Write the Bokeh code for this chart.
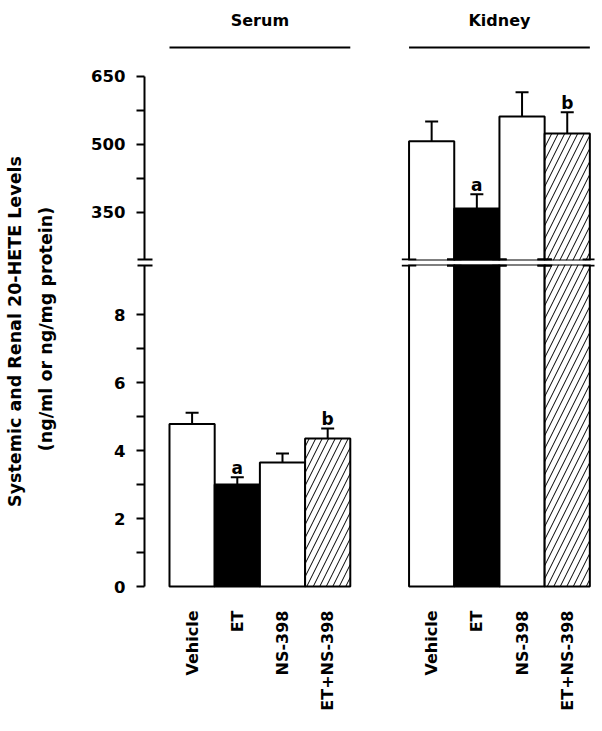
import math
from bokeh.plotting import figure
from bokeh.layouts import row, column
from bokeh.models import Range1d, FixedTicker, Whisker, TeeHead, ColumnDataSource
from bokeh.core.properties import value
from bokeh.embed import file_html
from bokeh.resources import INLINE

# ---------------- data ----------------
groups = ["Serum", "Kidney"]
treatments = ["Vehicle", "ET", "NS-398", "ET+NS-398"]
serum_mean = [4.78, 3.00, 3.65, 4.35]
serum_sem = [0.33, 0.21, 0.26, 0.30]
kidney_mean = [507, 359, 562, 524]
kidney_sem = [44, 31, 53, 47]
serum_marks = ["", "a", "", "b"]
kidney_marks = ["", "a", "", "b"]
bar_fill = ["white", "black", "white", "white"]
bar_hatch = [" ", " ", " ", "/"]
lower_ticks = [0, 2, 4, 6, 8]
lower_minor = [1, 3, 5, 7]
upper_ticks = [350, 500, 650]
upper_minor = [425, 575]
y_label_1 = "Systemic and Renal 20-HETE Levels"
y_label_2 = "(ng/ml or ng/mg protein)"

# ---------------- layout constants ----------------
FONT = "DejaVu Sans"
GROUP_START = [1.0, 6.3]
BAR_W = 1.0
LOWER_BREAK = 9.441
UPPER_BREAK = 246.3
X_RANGE = (-0.053, 9.903)
HATCH_SCALE = 13

serum_x = [GROUP_START[0] + i for i in range(len(treatments))]
kidney_x = [round(GROUP_START[1] + i, 2) for i in range(len(treatments))]


def style_common(p):
    p.xgrid.visible = False
    p.ygrid.visible = False
    p.outline_line_color = None
    p.background_fill_color = "white"
    p.border_fill_color = "white"


def style_yaxis(ax, ticks, minors, brk, bounds):
    allt = sorted(ticks + minors)
    ax.ticker = FixedTicker(ticks=allt, minor_ticks=[brk])
    ax.major_label_overrides = {m: "" for m in minors}
    ax.bounds = bounds
    ax.axis_line_width = 2
    ax.axis_line_color = "black"
    ax.major_tick_line_width = 2
    ax.major_tick_out = 8
    ax.major_tick_in = 0
    ax.minor_tick_line_width = 2
    ax.minor_tick_out = 7
    ax.minor_tick_in = 8
    ax.major_label_standoff = 11
    ax.major_label_text_font = FONT
    ax.major_label_text_font_style = "bold"
    ax.major_label_text_font_size = "16.5px"
    ax.major_label_text_color = "black"


# ---------------- upper (kidney, broken axis top) ----------------
upper = figure(width=530, height=262, x_range=Range1d(*X_RANGE),
               y_range=Range1d(244.1, 800), output_backend="svg",
               toolbar_location=None, x_axis_location=None,
               min_border_left=76, min_border_right=4, min_border_top=8,
               min_border_bottom=2)
style_common(upper)
style_yaxis(upper.yaxis[0], upper_ticks, upper_minor, UPPER_BREAK, (UPPER_BREAK, 650))

ksrc = ColumnDataSource(dict(
    x=kidney_x, top=kidney_mean, upper=[m + s for m, s in zip(kidney_mean, kidney_sem)],
    fill=bar_fill, hatch=bar_hatch, mark=kidney_marks))
upper.vbar(x="x", width=BAR_W, top="top", bottom=upper.y_range.start - 50, source=ksrc,
           fill_color="fill", line_color="black", line_width=2,
           hatch_pattern="hatch", hatch_color="black", hatch_weight=1,
           hatch_scale=HATCH_SCALE)
upper.add_layout(Whisker(source=ksrc, base="x", lower="top", upper="upper",
                         line_width=2, line_color="black", lower_head=None,
                         upper_head=TeeHead(size=13, line_width=2, line_color="black")))
upper.text(x="x", y="upper", text="mark", source=ksrc, text_align="center",
           text_baseline="alphabetic", y_offset=-9, text_font=value(FONT),
           text_font_style="bold", text_font_size="17px", text_color="black")

# group headers
grp_left = [GROUP_START[0] - BAR_W / 2, GROUP_START[1] - BAR_W / 2]
grp_right = [GROUP_START[0] + len(treatments) - 1 + BAR_W / 2,
             GROUP_START[1] + len(treatments) - 1 + BAR_W / 2]
upper.segment(x0=grp_left, x1=grp_right, y0=[714, 714], y1=[714, 714],
              line_color="black", line_width=2)
upper.text(x=[(a + b) / 2 for a, b in zip(grp_left, grp_right)], y=[774.6, 774.6],
           text=groups, text_align="center", text_baseline="alphabetic",
           text_font=value(FONT), text_font_style="bold", text_font_size="16px",
           text_color="black")


def break_marks(p, yv):
    x0, x1 = [], []
    ext = 0.16
    for i, cx in enumerate(kidney_x):
        if bar_fill[i] == "black":
            x0.append(cx - BAR_W / 2 - ext)
            x1.append(cx + BAR_W / 2 + ext)
        else:
            for e in (cx - BAR_W / 2, cx + BAR_W / 2):
                x0.append(e - ext)
                x1.append(e + ext)
    p.segment(x0=x0, x1=x1, y0=[yv] * len(x0), y1=[yv] * len(x0),
              line_color="black", line_width=2)


break_marks(upper, UPPER_BREAK)

# ---------------- lower ----------------
lower = figure(width=530, height=461, x_range=upper.x_range,
               y_range=Range1d(-0.0588, 9.471), output_backend="svg",
               toolbar_location=None, min_border_left=76, min_border_right=4,
               min_border_top=2, min_border_bottom=135)
style_common(lower)
style_yaxis(lower.yaxis[0], lower_ticks, lower_minor, LOWER_BREAK, (0, LOWER_BREAK))

ssrc = ColumnDataSource(dict(
    x=serum_x, top=serum_mean, upper=[m + s for m, s in zip(serum_mean, serum_sem)],
    fill=bar_fill, hatch=bar_hatch, mark=serum_marks))
lower.vbar(x="x", width=BAR_W, top="top", bottom=0, source=ssrc,
           fill_color="fill", line_color="black", line_width=2,
           hatch_pattern="hatch", hatch_color="black", hatch_weight=1,
           hatch_scale=HATCH_SCALE)
lower.add_layout(Whisker(source=ssrc, base="x", lower="top", upper="upper",
                         line_width=2, line_color="black", lower_head=None,
                         upper_head=TeeHead(size=13, line_width=2, line_color="black")))
lower.text(x="x", y="upper", text="mark", source=ssrc, text_align="center",
           text_baseline="alphabetic", y_offset=-9, text_font=value(FONT),
           text_font_style="bold", text_font_size="17px", text_color="black")

# kidney bars, lower part (continue up through the break)
klsrc = ColumnDataSource(dict(x=kidney_x, fill=bar_fill, hatch=bar_hatch))
lower.vbar(x="x", width=BAR_W, top=lower.y_range.end + 5, bottom=0, source=klsrc,
           fill_color="fill", line_color="black", line_width=2,
           hatch_pattern="hatch", hatch_color="black", hatch_weight=1,
           hatch_scale=HATCH_SCALE)
break_marks(lower, LOWER_BREAK)

xa = lower.xaxis[0]
xa.ticker = FixedTicker(ticks=serum_x + kidney_x)
xa.major_label_overrides = {x: t for x, t in zip(serum_x + kidney_x, treatments * 2)}
xa.axis_line_color = None
xa.major_tick_line_color = None
xa.minor_tick_line_color = None
xa.major_tick_out = 0
xa.major_label_orientation = math.pi / 2
xa.major_label_standoff = 22
xa.major_label_text_font = FONT
xa.major_label_text_font_style = "bold"
xa.major_label_text_font_size = "16px"
xa.major_label_text_color = "black"

# ---------------- y-axis label panel ----------------
lab = figure(width=68, height=723, x_range=Range1d(0, 68), y_range=Range1d(0, 723),
             output_backend="svg", toolbar_location=None, x_axis_location=None,
             y_axis_location=None, min_border=0)
style_common(lab)
lab.text(x=[14, 45], y=[392, 394.5], text=[y_label_1, y_label_2], angle=math.pi / 2,
         text_align="center", text_baseline="middle", text_font=value(FONT),
         text_font_style="bold", text_font_size="17.5px", text_color="black")

layout = row(lab, column(upper, lower))
open("out.html", "w").write(file_html(layout, INLINE))
